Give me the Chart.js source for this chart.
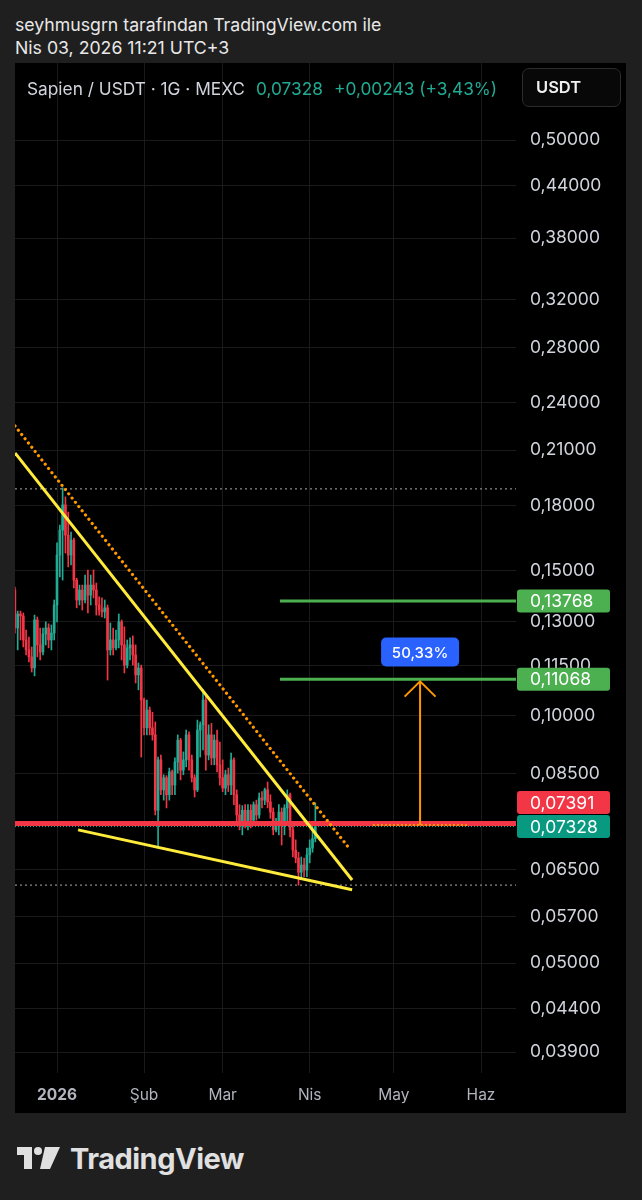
<!DOCTYPE html>
<html>
<head>
<meta charset="utf-8">
<script src="https://cdn.jsdelivr.net/npm/chart.js@4.4.1/dist/chart.umd.min.js"></script>
<style>
  body { margin: 0; width: 642px; height: 1200px; background: #1f1f1f; position: relative; overflow: hidden; font-family: Inter, "Noto Sans", sans-serif; }
  .hdr { position: absolute; left: 15px; color: #e8e8e8; font-size: 17.7px; line-height: 20px; white-space: nowrap; }
  #panel { position: absolute; left: 15px; top: 63px; width: 611px; height: 1050px; background: #000; }
  #panel canvas { position: absolute; left: 0; top: 0; }
  .title { position: absolute; top: 16px; font-size: 17.3px; line-height: 20px; white-space: nowrap; }
  #usdt { position: absolute; left: 507px; top: 5px; height: 37px; border: 1px solid #2c2c2c; border-radius: 7px; background: #080808; color: #f0f0f0; font-size: 16.5px; font-weight: 600; line-height: 37px; padding-left: 13px; width: 84px; }
  #logo { position: absolute; left: 17px; top: 1142px; height: 32px; display: flex; align-items: center; color: #e0e0e0; }
  #logo span { font-size: 29px; font-weight: 700; letter-spacing: -0.5px; margin-left: 9px; }
</style>
</head>
<body>
<div class="hdr" style="top:15px">seyhmusgrn tarafından TradingView.com ile</div>
<div class="hdr" style="top:38px">Nis 03, 2026 11:21 UTC+3</div>
<div id="panel">
  <canvas id="chart" width="611" height="1050"></canvas>
  <div class="title" style="left:12px;color:#d1d4dc">Sapien / USDT · 1G · MEXC</div>
  <div class="title" style="left:241px;color:#22ab94">0,07328</div>
  <div class="title" style="left:319px;color:#22ab94">+0,00243 (+3,43%)</div>
  <div id="usdt">USDT</div>
</div>
<div id="logo">
  <svg width="44" height="26" viewBox="0 0 44 26">
    <rect x="0" y="2" width="15" height="8" fill="#e0e0e0"/>
    <rect x="7" y="2" width="8" height="22" fill="#e0e0e0"/>
    <circle cx="21" cy="6" r="4" fill="#e0e0e0"/>
    <polygon points="28,2 43,2 33,24 23,24" fill="#e0e0e0"/>
  </svg>
  <span>TradingView</span>
</div>
<script>
// Daily candles, 17 Dec 2025 .. 3 Apr 2026 (day 0 = 1 Jan 2026)
const firstDay = -15;
const candleOpen = [
  0.1420, 0.1277, 0.1328, 0.1321, 0.1235, 0.1201, 0.1178, 0.1142, 0.1306, 0.1218,
  0.1194, 0.1256, 0.1277, 0.1235, 0.1259, 0.1362, 0.1566, 0.1679, 0.1802, 0.1656,
  0.1566, 0.1633, 0.1460, 0.1381, 0.1420, 0.1381, 0.1440, 0.1400, 0.1440, 0.1420,
  0.1362, 0.1343, 0.1336, 0.1351, 0.1201, 0.1235, 0.1208, 0.1235, 0.1299, 0.1218,
  0.1151, 0.1208, 0.1218, 0.1184, 0.1120, 0.1142, 0.1044, 0.0966, 0.1015, 0.0966,
  0.0947, 0.0767, 0.0883, 0.0812, 0.0840, 0.0801, 0.0854, 0.0823, 0.0878, 0.0933,
  0.0858, 0.0883, 0.0947, 0.0883, 0.0840, 0.0812, 0.0960, 0.0974, 0.1044, 0.0895,
  0.0947, 0.0888, 0.0933, 0.0871, 0.0840, 0.0816, 0.0847, 0.0823, 0.0883, 0.0801,
  0.0757, 0.0736, 0.0767, 0.0742, 0.0767, 0.0746, 0.0779, 0.0757, 0.0794, 0.0789,
  0.0812, 0.0785, 0.0763, 0.0726, 0.0742, 0.0763, 0.0734, 0.0772, 0.0801, 0.0726,
  0.0686, 0.0671, 0.0645, 0.0658, 0.0649, 0.0677, 0.0690, 0.07085
];
const candleHigh = [
  0.1432, 0.1339, 0.1339, 0.1332, 0.1270, 0.1245, 0.1211, 0.1324, 0.1317, 0.1277,
  0.1277, 0.1299, 0.1292, 0.1288, 0.1381, 0.1620, 0.1703, 0.1890, 0.1843, 0.1766,
  0.1670, 0.1642, 0.1468, 0.1440, 0.1440, 0.1481, 0.1502, 0.1481, 0.1502, 0.1448,
  0.1393, 0.1389, 0.1381, 0.1362, 0.1295, 0.1277, 0.1270, 0.1328, 0.1306, 0.1281,
  0.1235, 0.1242, 0.1249, 0.1218, 0.1158, 0.1151, 0.1050, 0.1044, 0.1024, 0.1009,
  0.0982, 0.0890, 0.0895, 0.0847, 0.0845, 0.0863, 0.0858, 0.0888, 0.0947, 0.0938,
  0.0903, 0.0960, 0.0955, 0.0895, 0.0847, 0.0987, 0.0982, 0.1074, 0.1059, 0.0974,
  0.0978, 0.0947, 0.0960, 0.0928, 0.0883, 0.0858, 0.0863, 0.0900, 0.0888, 0.0812,
  0.0779, 0.0777, 0.0779, 0.0779, 0.0779, 0.0785, 0.0789, 0.0805, 0.0808, 0.0816,
  0.0830, 0.0801, 0.0772, 0.0750, 0.0779, 0.0772, 0.0779, 0.0812, 0.0805, 0.0736,
  0.0706, 0.0682, 0.0673, 0.0671, 0.0690, 0.0706, 0.0732, 0.0783
];
const candleLow = [
  0.1259, 0.1201, 0.1235, 0.1211, 0.1184, 0.1161, 0.1129, 0.1117, 0.1178, 0.1168,
  0.1184, 0.1218, 0.1208, 0.1201, 0.1235, 0.1299, 0.1473, 0.1460, 0.1575, 0.1515,
  0.1523, 0.1428, 0.1351, 0.1362, 0.1343, 0.1370, 0.1332, 0.1362, 0.1389, 0.1324,
  0.1324, 0.1317, 0.1313, 0.1104, 0.1184, 0.1184, 0.1201, 0.1208, 0.1168, 0.1126,
  0.1142, 0.1168, 0.1151, 0.1095, 0.1074, 0.0890, 0.0947, 0.0947, 0.0947, 0.0933,
  0.0757, 0.0690, 0.0801, 0.0789, 0.0772, 0.0789, 0.0801, 0.0801, 0.0851, 0.0835,
  0.0847, 0.0866, 0.0858, 0.0830, 0.0796, 0.0808, 0.0890, 0.0908, 0.0858, 0.0883,
  0.0871, 0.0871, 0.0854, 0.0823, 0.0808, 0.0801, 0.0808, 0.0801, 0.0779, 0.0742,
  0.0726, 0.0716, 0.0730, 0.0726, 0.0730, 0.0736, 0.0746, 0.0750, 0.0772, 0.0779,
  0.0772, 0.0750, 0.0716, 0.0722, 0.0716, 0.0696, 0.0716, 0.0736, 0.0712, 0.0673,
  0.0662, 0.0622, 0.0635, 0.0637, 0.0637, 0.0662, 0.0682, 0.0702
];
const candleClose = [
  0.1277, 0.1328, 0.1321, 0.1235, 0.1201, 0.1178, 0.1142, 0.1306, 0.1218, 0.1194,
  0.1256, 0.1277, 0.1235, 0.1259, 0.1362, 0.1566, 0.1679, 0.1802, 0.1656, 0.1566,
  0.1633, 0.1460, 0.1381, 0.1420, 0.1381, 0.1440, 0.1400, 0.1440, 0.1420, 0.1362,
  0.1343, 0.1336, 0.1351, 0.1201, 0.1235, 0.1208, 0.1235, 0.1299, 0.1218, 0.1151,
  0.1208, 0.1218, 0.1184, 0.1120, 0.1142, 0.1044, 0.0966, 0.1015, 0.0966, 0.0947,
  0.0767, 0.0883, 0.0812, 0.0840, 0.0801, 0.0854, 0.0823, 0.0878, 0.0933, 0.0858,
  0.0883, 0.0947, 0.0883, 0.0840, 0.0812, 0.0960, 0.0974, 0.1044, 0.0895, 0.0947,
  0.0888, 0.0933, 0.0871, 0.0840, 0.0816, 0.0847, 0.0823, 0.0883, 0.0801, 0.0757,
  0.0736, 0.0767, 0.0742, 0.0767, 0.0746, 0.0779, 0.0757, 0.0794, 0.0789, 0.0812,
  0.0785, 0.0763, 0.0726, 0.0742, 0.0763, 0.0734, 0.0772, 0.0801, 0.0726, 0.0686,
  0.0671, 0.0645, 0.0658, 0.0649, 0.0677, 0.0690, 0.07085, 0.07328
];

// axes
const monthTicks = [0, 31, 59, 90, 120, 151];
const monthLabels = ['2026', 'Şub', 'Mar', 'Nis', 'May', 'Haz'];
const priceTicks = [0.5, 0.44, 0.38, 0.32, 0.28, 0.24, 0.21, 0.18, 0.15, 0.13, 0.115, 0.10, 0.085, 0.065, 0.057, 0.05, 0.044, 0.039];
const xMin = -14.96, xMax = 163.46;
const yMin = 0.03678, yMax = 0.6202;

// drawings
const upperTrend = [{ x: -14.96, y: 0.2084 }, { x: 105.1, y: 0.0631 }];
const dottedTrend = [{ x: -14.96, y: 0.2247 }, { x: 104.3, y: 0.0688 }];
const lowerTrend = [{ x: 7.5, y: 0.0726 }, { x: 105.1, y: 0.0614 }];
const redLevel = 0.07391;
const lastPrice = 0.07328;
const targetLevels = [0.13768, 0.11068];
const targetStart = 79.4;
const rangeHigh = 0.1884, rangeLow = 0.0622;
const measureX = 129.3, measureLeft = 112.5, measureRight = 146.0;
const measureBase = 0.0736, measureTip = 0.1100, arrowWing = 0.1054, arrowHalf = 5.5;
const measureLabelY = 0.1194, measureText = '50,33%';

const UP = '#22ab94', DOWN = '#f23645';
const candleColor = (i) => candleClose[i] >= candleOpen[i] ? UP : DOWN;
const fmt = (v) => v.toFixed(5).replace('.', ',');

const bodies = candleOpen.map((o, i) => ({ x: firstDay + i, y: [o, candleClose[i]] }));
const wicks = candleOpen.map((o, i) => ({ x: firstDay + i, y: [candleLow[i], candleHigh[i]] }));

function level(v, from, to) { return [{ x: from, y: v }, { x: to, y: v }]; }
function lineDs(data, color, width, dash, order, cap) {
  return {
    type: 'line', data, borderColor: color, borderWidth: width, borderDash: dash || [],
    borderCapStyle: cap || 'butt', pointRadius: 0, fill: false, tension: 0, order
  };
}

const overlays = {
  id: 'overlays',
  afterDraw(chart) {
    const { ctx, scales: { x, y } } = chart;
    ctx.save();
    const boxL = y.left + 1, boxW = 93, boxH = 23;
    function tag(value, color, cy) {
      ctx.fillStyle = color;
      ctx.beginPath();
      ctx.roundRect(boxL, cy - boxH / 2, boxW, boxH, 3);
      ctx.fill();
      ctx.fillStyle = '#ffffff';
      ctx.font = '17.5px Inter';
      ctx.textAlign = 'left';
      ctx.textBaseline = 'middle';
      ctx.fillText(fmt(value), y.left + 14, cy + 1);
    }
    tag(targetLevels[0], '#4caf50', y.getPixelForValue(targetLevels[0]));
    tag(targetLevels[1], '#4caf50', y.getPixelForValue(targetLevels[1]));
    const lastY = y.getPixelForValue(lastPrice);
    const redY = Math.min(y.getPixelForValue(redLevel), lastY - boxH - 1);
    tag(redLevel, '#f23645', redY);
    tag(lastPrice, '#089981', lastY);

    // measure label
    const cx = x.getPixelForValue(measureX), cy = y.getPixelForValue(measureLabelY);
    ctx.fillStyle = '#2962ff';
    ctx.beginPath();
    ctx.roundRect(cx - 39, cy - 14.5, 78, 29, 5);
    ctx.fill();
    ctx.fillStyle = '#ffffff';
    ctx.font = '500 15px Inter';
    ctx.textAlign = 'center';
    ctx.textBaseline = 'middle';
    ctx.fillText(measureText, cx, cy + 1);
    ctx.restore();
  }
};

new Chart(document.getElementById('chart'), {
  type: 'bar',
  data: {
    datasets: [
      lineDs(upperTrend, '#ffeb3b', 3, [], 2),
      lineDs(dottedTrend, '#ff9800', 3.2, [0.01, 5.4], 2, 'round'),
      lineDs(lowerTrend, '#ffeb3b', 3, [], 2),
      lineDs(level(redLevel, xMin, xMax), '#f23645', 5, [], 3),
      lineDs(level(lastPrice, xMin, xMax), UP, 1, [1, 2], 4),
      lineDs(level(targetLevels[0], targetStart, xMax), '#4caf50', 3, [], 2),
      lineDs(level(targetLevels[1], targetStart, xMax), '#4caf50', 3, [], 2),
      lineDs(level(rangeHigh, xMin, xMax), '#8a8a8a', 1.2, [2, 3], 5),
      lineDs(level(rangeLow, xMin, xMax), '#8a8a8a', 1.2, [2, 3], 5),
      lineDs(level(measureBase, measureLeft, measureRight), '#ff9800', 2, [2, 2], 1),
      lineDs([{ x: measureX, y: measureBase }, { x: measureX, y: measureTip }], '#ff9800', 2, [], 1),
      lineDs([{ x: measureX - arrowHalf, y: arrowWing }, { x: measureX, y: measureTip }, { x: measureX + arrowHalf, y: arrowWing }], '#ff9800', 2, [], 1),
      {
        type: 'bar', data: wicks, grouped: false, barThickness: 1, order: 10,
        backgroundColor: (c) => candleColor(c.dataIndex), borderWidth: 0
      },
      {
        type: 'bar', data: bodies, grouped: false, barThickness: 2, minBarLength: 1, order: 9,
        backgroundColor: (c) => candleColor(c.dataIndex), borderWidth: 0
      }
    ]
  },
  options: {
    responsive: false,
    animation: false,
    devicePixelRatio: 1,
    layout: { padding: 0 },
    plugins: { legend: { display: false }, tooltip: { enabled: false } },
    scales: {
      x: {
        type: 'linear', min: xMin, max: xMax, offset: false, bounds: 'data',
        grid: { color: '#1a1a1a', offset: false, drawTicks: false },
        border: { display: false },
        afterBuildTicks: (s) => { s.ticks = monthTicks.map((v) => ({ value: v })); },
        afterFit: (s) => { s.height = 40; s.paddingLeft = 0; s.paddingRight = 0; },
        ticks: {
          autoSkip: false, maxRotation: 0, padding: 13, color: '#b2b5be',
          font: (c) => ({ family: 'Inter', size: 15.5, weight: c.tick && c.tick.value === 0 ? 'bold' : 'normal' }),
          callback: (v) => monthLabels[monthTicks.indexOf(v)]
        }
      },
      y: {
        type: 'logarithmic', position: 'right', min: yMin, max: yMax, bounds: 'data',
        grid: { color: '#1a1a1a', drawTicks: false },
        border: { display: false },
        afterBuildTicks: (s) => { s.ticks = priceTicks.map((v) => ({ value: v })); },
        afterFit: (s) => { s.width = 110; s.paddingTop = 0; s.paddingBottom = 0; },
        ticks: {
          autoSkip: false, padding: 14, color: '#d1d4dc',
          font: { family: 'Inter', size: 17.5 },
          callback: (v) => fmt(v)
        }
      }
    }
  },
  plugins: [overlays]
});
</script>
</body>
</html>
